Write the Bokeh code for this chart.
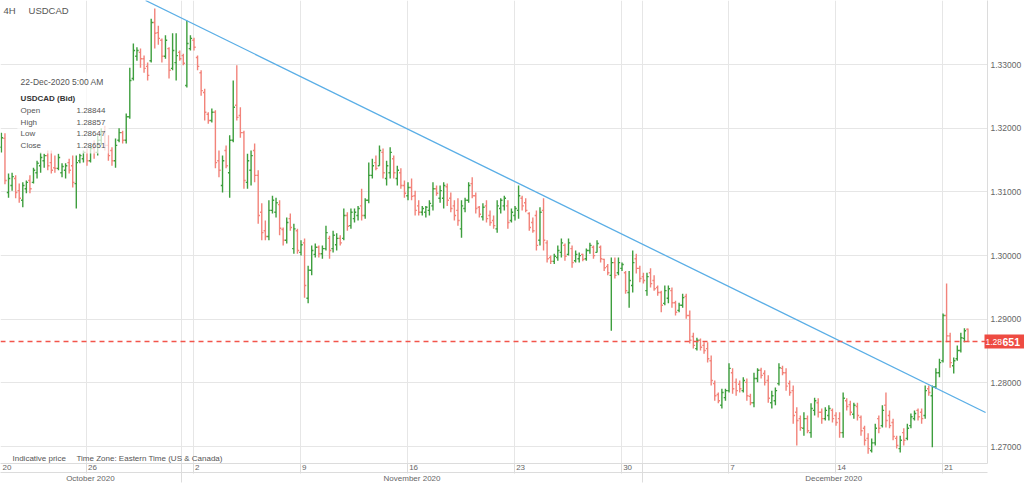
import numpy as np
import pandas as pd
from bokeh.plotting import figure
from bokeh.models import (Range1d, LinearAxis, FixedTicker, Label,
                          BoxAnnotation, PrintfTickFormatter, ColumnDataSource)
from bokeh.embed import file_html
from bokeh.resources import INLINE

# ---------------- data: USDCAD 4H bars, 20-Oct-2020 01:00 .. 22-Dec-2020 05:00 (ET) ----------------
open_ = [
    1.3170, 1.3184, 1.3099, 1.3110, 1.3121, 1.3102, 1.3087, 1.3105, 1.3118, 1.3115,
    1.3130, 1.3141, 1.3149, 1.3157, 1.3146, 1.3138, 1.3137, 1.3130, 1.3134, 1.3146,
    1.3141, 1.3113, 1.3149, 1.3152, 1.3162, 1.3149, 1.3168, 1.3162, 1.3181, 1.3193,
    1.3173, 1.3165, 1.3149, 1.3181, 1.3193, 1.3181, 1.3218, 1.3278, 1.3313, 1.3319,
    1.3309, 1.3297, 1.3306, 1.3366, 1.3350, 1.3338, 1.3313, 1.3325, 1.3294, 1.3303,
    1.3319, 1.3314, 1.3267, 1.3325, 1.3338, 1.3311, 1.3287, 1.3256, 1.3222, 1.3212,
    1.3225, 1.3149, 1.3110, 1.3165, 1.3130, 1.3181, 1.3236, 1.3220, 1.3193, 1.3115,
    1.3134, 1.3165, 1.3126, 1.3068, 1.3039, 1.3030, 1.3071, 1.3068, 1.3080, 1.3041,
    1.3024, 1.3058, 1.3011, 1.3039, 1.3005, 1.3020, 1.2933, 1.2977, 1.3002, 1.3013,
    1.3003, 1.3011, 1.3027, 1.3011, 1.3017, 1.3027, 1.3027, 1.3063, 1.3047, 1.3058,
    1.3063, 1.3078, 1.3063, 1.3087, 1.3126, 1.3146, 1.3141, 1.3162, 1.3121, 1.3130,
    1.3152, 1.3121, 1.3130, 1.3110, 1.3094, 1.3107, 1.3094, 1.3078, 1.3068, 1.3068,
    1.3071, 1.3078, 1.3105, 1.3090, 1.3090, 1.3108, 1.3090, 1.3078, 1.3071, 1.3042,
    1.3074, 1.3087, 1.3113, 1.3094, 1.3076, 1.3061, 1.3078, 1.3063, 1.3055, 1.3042,
    1.3074, 1.3078, 1.3078, 1.3055, 1.3063, 1.3071, 1.3090, 1.3083, 1.3066, 1.3052,
    1.3063, 1.3024, 1.3071, 1.3020, 1.2997, 1.2991, 1.2997, 1.3005, 1.3016, 1.3002,
    1.3011, 1.2992, 1.2995, 1.3002, 1.2995, 1.3008, 1.3013, 1.3005, 1.3013, 1.2994,
    1.2983, 1.2969, 1.2989, 1.2973, 1.2980, 1.2973, 1.2942, 1.2953, 1.2995, 1.2980,
    1.2967, 1.2945, 1.2973, 1.2961, 1.2950, 1.2942, 1.2925, 1.2933, 1.2945, 1.2926,
    1.2914, 1.2922, 1.2936, 1.2906, 1.2873, 1.2854, 1.2867, 1.2859, 1.2854, 1.2835,
    1.2799, 1.2782, 1.2765, 1.2777, 1.2788, 1.2816, 1.2801, 1.2798, 1.2788, 1.2801,
    1.2779, 1.2769, 1.2807, 1.2820, 1.2815, 1.2804, 1.2769, 1.2772, 1.2799, 1.2823,
    1.2816, 1.2799, 1.2788, 1.2754, 1.2744, 1.2729, 1.2744, 1.2722, 1.2757, 1.2769,
    1.2754, 1.2744, 1.2749, 1.2757, 1.2749, 1.2744, 1.2722, 1.2772, 1.2766, 1.2751,
    1.2763, 1.2746, 1.2729, 1.2713, 1.2694, 1.2706, 1.2744, 1.2733, 1.2765, 1.2749,
    1.2738, 1.2713, 1.2697, 1.2722, 1.2713, 1.2733, 1.2744, 1.2757, 1.2754, 1.2749,
    1.2791, 1.2780, 1.2794, 1.2816, 1.2835, 1.2906, 1.2874, 1.2827, 1.2838, 1.2851,
    1.2870, 1.28844,
]
high = [
    1.3193, 1.3192, 1.3129, 1.3130, 1.3126, 1.3113, 1.3115, 1.3118, 1.3126, 1.3138,
    1.3149, 1.3162, 1.3160, 1.3165, 1.3165, 1.3157, 1.3160, 1.3145, 1.3145, 1.3152,
    1.3157, 1.3157, 1.3160, 1.3165, 1.3168, 1.3173, 1.3181, 1.3189, 1.3200, 1.3204,
    1.3189, 1.3170, 1.3184, 1.3200, 1.3196, 1.3223, 1.3295, 1.3333, 1.3327, 1.3325,
    1.3314, 1.3303, 1.3372, 1.3388, 1.3361, 1.3341, 1.3346, 1.3327, 1.3349, 1.3349,
    1.3322, 1.3317, 1.3369, 1.3346, 1.3342, 1.3314, 1.3291, 1.3262, 1.3225, 1.3231,
    1.3228, 1.3165, 1.3157, 1.3173, 1.3189, 1.3275, 1.3299, 1.3233, 1.3196, 1.3160,
    1.3165, 1.3176, 1.3134, 1.3082, 1.3055, 1.3087, 1.3094, 1.3091, 1.3087, 1.3044,
    1.3060, 1.3066, 1.3050, 1.3042, 1.3024, 1.3027, 1.2984, 1.3016, 1.3019, 1.3016,
    1.3016, 1.3047, 1.3031, 1.3039, 1.3035, 1.3032, 1.3074, 1.3068, 1.3074, 1.3074,
    1.3078, 1.3105, 1.3090, 1.3146, 1.3152, 1.3157, 1.3173, 1.3168, 1.3149, 1.3170,
    1.3157, 1.3141, 1.3137, 1.3118, 1.3115, 1.3121, 1.3102, 1.3087, 1.3078, 1.3078,
    1.3087, 1.3115, 1.3110, 1.3110, 1.3115, 1.3113, 1.3099, 1.3087, 1.3090, 1.3087,
    1.3091, 1.3115, 1.3123, 1.3099, 1.3078, 1.3082, 1.3087, 1.3071, 1.3063, 1.3087,
    1.3090, 1.3094, 1.3087, 1.3074, 1.3078, 1.3110, 1.3094, 1.3090, 1.3068, 1.3060,
    1.3071, 1.3076, 1.3090, 1.3024, 1.3000, 1.3003, 1.3016, 1.3027, 1.3019, 1.3027,
    1.3016, 1.3008, 1.3005, 1.3003, 1.3011, 1.3020, 1.3016, 1.3024, 1.3016, 1.2995,
    1.2987, 1.2997, 1.2997, 1.2997, 1.2989, 1.2976, 1.2976, 1.3008, 1.3003, 1.2984,
    1.2973, 1.2973, 1.2980, 1.2969, 1.2953, 1.2945, 1.2953, 1.2953, 1.2950, 1.2929,
    1.2926, 1.2940, 1.2940, 1.2914, 1.2879, 1.2871, 1.2870, 1.2864, 1.2864, 1.2843,
    1.2804, 1.2785, 1.2791, 1.2791, 1.2831, 1.2823, 1.2807, 1.2804, 1.2809, 1.2807,
    1.2783, 1.2816, 1.2823, 1.2824, 1.2820, 1.2812, 1.2788, 1.2793, 1.2831, 1.2827,
    1.2823, 1.2804, 1.2796, 1.2762, 1.2749, 1.2754, 1.2749, 1.2768, 1.2777, 1.2776,
    1.2760, 1.2762, 1.2765, 1.2760, 1.2754, 1.2754, 1.2785, 1.2776, 1.2772, 1.2769,
    1.2769, 1.2749, 1.2733, 1.2721, 1.2713, 1.2736, 1.2749, 1.2765, 1.2785, 1.2757,
    1.2744, 1.2717, 1.2717, 1.2729, 1.2736, 1.2752, 1.2757, 1.2760, 1.2760, 1.2796,
    1.2796, 1.2796, 1.2823, 1.2838, 1.2909, 1.2956, 1.2879, 1.2840, 1.2859, 1.2879,
    1.2886, 1.28857,
]
low = [
    1.3162, 1.3112, 1.3091, 1.3102, 1.3090, 1.3083, 1.3076, 1.3098, 1.3098, 1.3113,
    1.3121, 1.3130, 1.3138, 1.3134, 1.3129, 1.3130, 1.3134, 1.3123, 1.3121, 1.3129,
    1.3107, 1.3074, 1.3145, 1.3146, 1.3141, 1.3146, 1.3152, 1.3157, 1.3173, 1.3165,
    1.3149, 1.3141, 1.3138, 1.3178, 1.3176, 1.3176, 1.3215, 1.3275, 1.3306, 1.3295,
    1.3287, 1.3275, 1.3303, 1.3325, 1.3331, 1.3303, 1.3309, 1.3278, 1.3291, 1.3275,
    1.3306, 1.3299, 1.3264, 1.3322, 1.3322, 1.3291, 1.3251, 1.3212, 1.3207, 1.3209,
    1.3137, 1.3123, 1.3099, 1.3137, 1.3091, 1.3178, 1.3212, 1.3185, 1.3105, 1.3105,
    1.3110, 1.3115, 1.3050, 1.3024, 1.3024, 1.3024, 1.3066, 1.3060, 1.3032, 1.3016,
    1.3019, 1.3039, 1.3003, 1.3003, 1.3000, 1.2934, 1.2925, 1.2969, 1.2997, 1.2997,
    1.2995, 1.3008, 1.2995, 1.3005, 1.3008, 1.3016, 1.3024, 1.3039, 1.3042, 1.3052,
    1.3055, 1.3055, 1.3058, 1.3082, 1.3121, 1.3134, 1.3141, 1.3121, 1.3110, 1.3121,
    1.3121, 1.3110, 1.3105, 1.3091, 1.3087, 1.3087, 1.3063, 1.3063, 1.3063, 1.3060,
    1.3063, 1.3071, 1.3094, 1.3083, 1.3074, 1.3078, 1.3068, 1.3055, 1.3047, 1.3028,
    1.3068, 1.3083, 1.3090, 1.3066, 1.3060, 1.3055, 1.3052, 1.3047, 1.3042, 1.3036,
    1.3066, 1.3071, 1.3042, 1.3052, 1.3055, 1.3058, 1.3071, 1.3068, 1.3039, 1.3036,
    1.3008, 1.3016, 1.3008, 1.2989, 1.2987, 1.2987, 1.2992, 1.2997, 1.2992, 1.3000,
    1.2981, 1.2989, 1.2989, 1.2991, 1.2992, 1.3003, 1.2995, 1.3005, 1.2989, 1.2976,
    1.2969, 1.2882, 1.2964, 1.2969, 1.2976, 1.2940, 1.2918, 1.2942, 1.2972, 1.2958,
    1.2956, 1.2937, 1.2950, 1.2945, 1.2937, 1.2911, 1.2922, 1.2925, 1.2918, 1.2906,
    1.2911, 1.2918, 1.2901, 1.2862, 1.2854, 1.2851, 1.2851, 1.2846, 1.2832, 1.2796,
    1.2772, 1.2768, 1.2760, 1.2772, 1.2785, 1.2783, 1.2780, 1.2785, 1.2785, 1.2772,
    1.2765, 1.2762, 1.2801, 1.2807, 1.2796, 1.2769, 1.2760, 1.2765, 1.2796, 1.2812,
    1.2788, 1.2780, 1.2736, 1.2702, 1.2725, 1.2717, 1.2721, 1.2714, 1.2749, 1.2746,
    1.2736, 1.2741, 1.2741, 1.2738, 1.2733, 1.2714, 1.2714, 1.2757, 1.2749, 1.2744,
    1.2741, 1.2717, 1.2702, 1.2689, 1.2691, 1.2702, 1.2721, 1.2730, 1.2730, 1.2729,
    1.2710, 1.2697, 1.2691, 1.2702, 1.2710, 1.2729, 1.2741, 1.2741, 1.2736, 1.2744,
    1.2780, 1.2699, 1.2791, 1.2809, 1.2832, 1.2864, 1.2824, 1.2815, 1.2835, 1.2848,
    1.2864, 1.28647,
]
close = [
    1.3185, 1.3118, 1.3121, 1.3124, 1.3099, 1.3090, 1.3110, 1.3115, 1.3105, 1.3134,
    1.3145, 1.3154, 1.3157, 1.3141, 1.3134, 1.3137, 1.3154, 1.3140, 1.3141, 1.3134,
    1.3115, 1.3146, 1.3157, 1.3162, 1.3149, 1.3168, 1.3162, 1.3181, 1.3193, 1.3173,
    1.3157, 1.3149, 1.3173, 1.3193, 1.3181, 1.3218, 1.3275, 1.3322, 1.3322, 1.3309,
    1.3294, 1.3283, 1.3366, 1.3349, 1.3341, 1.3313, 1.3338, 1.3291, 1.3322, 1.3314,
    1.3309, 1.3302, 1.3333, 1.3341, 1.3327, 1.3297, 1.3259, 1.3225, 1.3212, 1.3225,
    1.3146, 1.3134, 1.3149, 1.3141, 1.3181, 1.3233, 1.3217, 1.3193, 1.3118, 1.3149,
    1.3157, 1.3126, 1.3063, 1.3036, 1.3030, 1.3071, 1.3087, 1.3083, 1.3043, 1.3024,
    1.3052, 1.3044, 1.3042, 1.3008, 1.3017, 1.2953, 1.2977, 1.3008, 1.3013, 1.3003,
    1.3011, 1.3036, 1.3008, 1.3032, 1.3027, 1.3020, 1.3063, 1.3046, 1.3068, 1.3068,
    1.3074, 1.3063, 1.3087, 1.3126, 1.3141, 1.3137, 1.3165, 1.3130, 1.3141, 1.3162,
    1.3130, 1.3134, 1.3110, 1.3098, 1.3107, 1.3093, 1.3071, 1.3068, 1.3074, 1.3076,
    1.3082, 1.3105, 1.3098, 1.3102, 1.3110, 1.3087, 1.3074, 1.3063, 1.3055, 1.3078,
    1.3087, 1.3110, 1.3094, 1.3074, 1.3065, 1.3076, 1.3058, 1.3052, 1.3047, 1.3078,
    1.3087, 1.3090, 1.3052, 1.3068, 1.3074, 1.3094, 1.3078, 1.3071, 1.3044, 1.3039,
    1.3016, 1.3068, 1.3024, 1.2995, 1.2991, 1.2999, 1.3008, 1.3020, 1.2999, 1.3020,
    1.2989, 1.3002, 1.3000, 1.2994, 1.3008, 1.3016, 1.3000, 1.3019, 1.2995, 1.2981,
    1.2973, 1.2989, 1.2969, 1.2989, 1.2986, 1.2945, 1.2961, 1.2989, 1.2980, 1.2964,
    1.2961, 1.2967, 1.2956, 1.2948, 1.2942, 1.2922, 1.2945, 1.2948, 1.2926, 1.2911,
    1.2922, 1.2934, 1.2906, 1.2867, 1.2859, 1.2867, 1.2856, 1.2851, 1.2838, 1.2804,
    1.2780, 1.2772, 1.2785, 1.2788, 1.2823, 1.2791, 1.2788, 1.2791, 1.2804, 1.2780,
    1.2769, 1.2807, 1.2820, 1.2812, 1.2801, 1.2776, 1.2780, 1.2788, 1.2824, 1.2816,
    1.2795, 1.2785, 1.2749, 1.2741, 1.2730, 1.2744, 1.2725, 1.2760, 1.2772, 1.2754,
    1.2744, 1.2757, 1.2760, 1.2744, 1.2738, 1.2722, 1.2776, 1.2763, 1.2754, 1.2765,
    1.2749, 1.2725, 1.2710, 1.2697, 1.2706, 1.2729, 1.2729, 1.2757, 1.2741, 1.2733,
    1.2716, 1.2702, 1.2710, 1.2710, 1.2729, 1.2747, 1.2752, 1.2747, 1.2744, 1.2788,
    1.2785, 1.2794, 1.2816, 1.2832, 1.2906, 1.2874, 1.2832, 1.2835, 1.2851, 1.2871,
    1.2882, 1.28651,
]

# axis text (trading-day positions: Mon 19-Oct-2020 00:00 = 0, weekends removed)
week_pos = [1, 5, 10, 15, 20, 25, 30, 35, 40, 45]
week_labels = ["20", "26", "2", "9", "16", "23", "30", "7", "14", "21"]
month_labels = ["October 2020", "November 2020", "December 2020"]
month_centers = [5.2, 20.23, 39.93]
month_bounds = [9.46, 31.0]
price_ticks = [1.27, 1.28, 1.29, 1.30, 1.31, 1.32, 1.33]
last_price = 1.28651
trend_x = [7.78, 47.03]
trend_y = [1.34005, 1.27537]

# ---------------- bar times on a trading-time axis ----------------
times = pd.date_range("2020-10-18 17:00", "2020-12-22 05:00", freq="4h")
dow = np.asarray(times.dayofweek)
hr = np.asarray(times.hour)
trading = ~((dow == 5) | ((dow == 4) & (hr >= 17)) | ((dow == 6) & (hr < 17)))
ttimes = times[trading]
tpos = (np.arange(len(ttimes)) * 4.0 - 7.0) / 24.0
start = int(np.where(ttimes == pd.Timestamp("2020-10-20 01:00"))[0][0])
bar_x = tpos[start:start + len(open_)]

W, H = 1024, 485
RIGHT, BOTTOM = 37, 22
AX_W = 40           # width of the price-axis panel (as laid out by Bokeh)
X0, X1 = 1.0, 47.12
Y0, Y1 = 1.26736, 1.34005
FONT = "Liberation Sans"
GRID = "#e6e6e6"
LINE = "#dcdcdc"
AXTXT = "#666666"
TAG = "#ee4b42"

p = figure(width=W, height=H, x_range=Range1d(X0, X1), y_range=Range1d(Y0, Y1),
           output_backend="svg", toolbar_location=None,
           x_axis_location=None, y_axis_location=None,
           min_border_left=0, min_border_top=0,
           min_border_right=RIGHT, min_border_bottom=BOTTOM)
p.outline_line_color = None
p.background_fill_color = "white"
p.border_fill_color = "white"

p.xgrid.ticker = FixedTicker(ticks=week_pos[1:] + month_bounds)
p.ygrid.ticker = FixedTicker(ticks=price_ticks)
p.xgrid.grid_line_color = GRID
p.ygrid.grid_line_color = GRID

# ---------------- OHLC bars ----------------
colors = ["#3d9e3d" if c >= o else "#f2837a" for o, c in zip(open_, close)]
tw = 0.08
src = ColumnDataSource(dict(x=bar_x, xl=bar_x - tw, xr=bar_x + tw,
                            o=open_, h=high, l=low, c=close, color=colors))
p.segment("x", "h", "x", "l", source=src, line_color="color", line_width=1.4)
p.segment("xl", "o", "x", "o", source=src, line_color="color", line_width=1.4)
p.segment("x", "c", "xr", "c", source=src, line_color="color", line_width=1.4)

# trend line and last price line
p.line(trend_x, trend_y, line_color="#5aaee6", line_width=1.3)
p.hspan(y=[last_price], line_color="#f2554b", line_alpha=1.0,
        line_dash="5 4", line_width=1.4)

# ---------------- axes ----------------
NT = dict(minor_tick_out=0, minor_tick_in=0)

yaxis = LinearAxis(ticker=FixedTicker(ticks=price_ticks),
                   formatter=PrintfTickFormatter(format="%.5f"),
                   major_tick_out=0, major_tick_in=0, **NT,
                   axis_line_color=LINE, major_label_standoff=3,
                   major_label_text_font=FONT, major_label_text_font_size="8.5px",
                   major_label_text_color=AXTXT)
p.add_layout(yaxis, "right")

# red last-price tag, drawn back over the price-axis panel
tag_box = LinearAxis(ticker=FixedTicker(ticks=[last_price]),
                     major_label_overrides={last_price: "1.28"},
                     major_tick_in=AX_W, major_tick_out=0, **NT,
                     major_tick_line_color=TAG, major_tick_line_width=14,
                     major_tick_line_cap="butt", axis_line_color=None,
                     major_label_standoff=1 - AX_W, major_label_text_font=FONT,
                     major_label_text_font_size="8.5px", major_label_text_color="white")
p.add_layout(tag_box, "right")
tag_txt = LinearAxis(ticker=FixedTicker(ticks=[last_price]),
                     major_label_overrides={last_price: "651"},
                     major_tick_out=0, major_tick_in=0, **NT, major_tick_line_color=None,
                     axis_line_color=None, major_label_standoff=18 - AX_W,
                     major_label_text_font=FONT, major_label_text_font_size="10.5px",
                     major_label_text_font_style="bold", major_label_text_color="white")
p.add_layout(tag_txt, "right")

px_per_day = (W - AX_W) / (X1 - X0)
day_ticks = [d + (2 + len(s) * 0.556 * 8 / 2) / px_per_day for d, s in zip(week_pos, week_labels)]
day_axis = LinearAxis(ticker=FixedTicker(ticks=day_ticks, minor_ticks=week_pos[1:] + month_bounds),
                      major_label_overrides={t: s for t, s in zip(day_ticks, week_labels)},
                      major_tick_out=10, major_tick_in=0, major_tick_line_color=None,
                      minor_tick_out=10, minor_tick_in=0, minor_tick_line_color=LINE,
                      axis_line_color=LINE, major_label_standoff=-9,
                      major_label_text_font=FONT, major_label_text_font_size="8px",
                      major_label_text_color=AXTXT)
p.add_layout(day_axis, "below")

month_axis = LinearAxis(ticker=FixedTicker(ticks=month_centers, minor_ticks=month_bounds),
                        major_label_overrides={t: s for t, s in zip(month_centers, month_labels)},
                        major_tick_out=10, major_tick_in=0, major_tick_line_color=None,
                        minor_tick_out=10, minor_tick_in=0, minor_tick_line_color=LINE,
                        axis_line_color=LINE, major_label_standoff=-9,
                        major_label_text_font=FONT, major_label_text_font_size="8px",
                        major_label_text_color=AXTXT)
p.add_layout(month_axis, "below")

end_axis = LinearAxis(ticker=FixedTicker(ticks=[]), major_tick_out=0, major_tick_in=0, **NT,
                      major_label_standoff=0, axis_line_color=LINE)
p.add_layout(end_axis, "below")

# ---------------- texts ----------------
def add_label(x, y, text, size="8px", color="#555555", style="normal"):
    p.add_layout(Label(x=x, y=y, text=text, text_font=FONT, text_font_size=size,
                       text_color=color, text_font_style=style,
                       text_baseline="middle", text_align="left"))

add_label(1.14, 1.3385, "4H", size="9.5px")
add_label(2.31, 1.3385, "USDCAD", size="9.5px")

p.add_layout(BoxAnnotation(left=1.79, right=6.05, top=1.32875, bottom=1.31603,
                           fill_color="white", fill_alpha=0.72, line_alpha=0))
add_label(1.94, 1.32733, "22-Dec-2020 5:00 AM", size="8.5px")
add_label(1.94, 1.32474, "USDCAD (Bid)", color="#333333", style="bold")
info_names = ["Open", "High", "Low", "Close"]
info_values = ["1.28844", "1.28857", "1.28647", "1.28651"]
info_y = [1.32278, 1.32097, 1.31917, 1.31736]
for n, v, yy in zip(info_names, info_values, info_y):
    add_label(1.94, yy, n)
    add_label(4.55, yy, v)

add_label(1.56, 1.26814, "Indicative price")
add_label(4.55, 1.26814, "Time Zone: Eastern Time (US & Canada)")

open("out.html", "w").write(file_html(p, INLINE))
